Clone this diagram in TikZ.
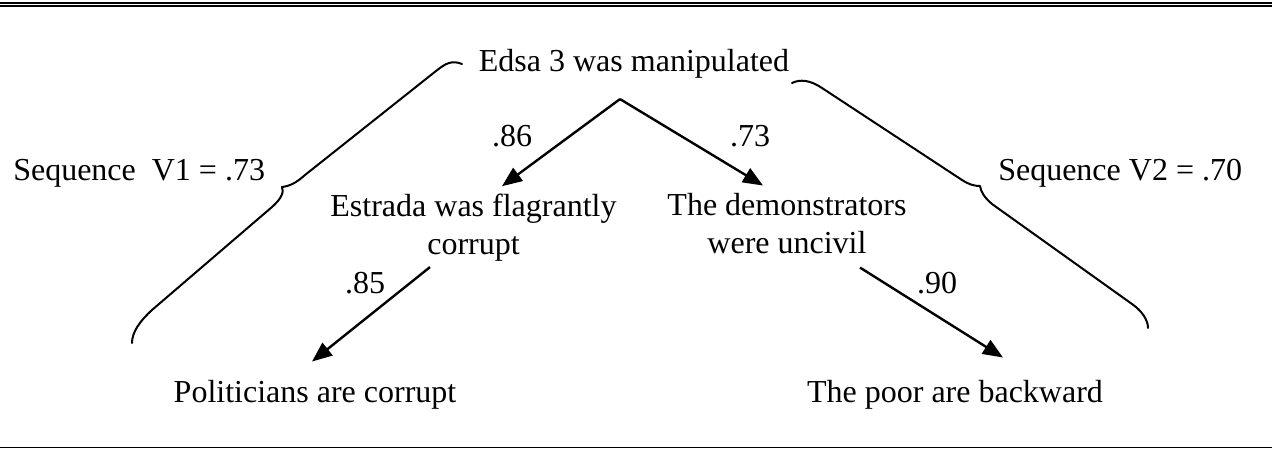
\documentclass[tikz,border=0pt]{standalone}
\usepackage{fontspec}
\setmainfont{Liberation Serif}
\usetikzlibrary{arrows.meta,calc}
\begin{document}
\begin{tikzpicture}[x=0.75pt,y=-0.75pt,
  txt/.style={font=\fontsize{24}{28.5}\selectfont},
  lbl/.style={txt, inner sep=0pt, anchor=base},
  box/.style={txt, align=center, inner sep=6pt, anchor=base},
  arr/.style={line width=1.8pt, -{Triangle[length=15pt,width=12pt]}},
  brace/.style={line width=1.5pt, line cap=round, line join=round},
  rule/.style={line width=1.5pt}]
\useasboundingbox (0,0) rectangle (1272,449);

% frame rules
\draw[rule] (0,2.8) -- (1272,2.8);
\draw[rule] (0,6.2) -- (1272,6.2);
\draw[line width=1pt] (0,447.8) -- (1272,447.8);

% statements (base anchor sits on the last line)
\node[box] (top) at (634,72) {Edsa 3 was manipulated};
\node[box] (estrada) at (473.5,255) {Estrada was flagrantly\\corrupt};
\node[box] (demo) at (787,254) {The demonstrators\\were uncivil};
\node[box] (pol) at (315,402) {Politicians are corrupt};
\node[box] (poor) at (955,402) {The poor are backward};

% branching point under the root statement
\coordinate (split) at ($(top.south)+(-14,12)$);

% paths
\draw[arr] (split) -- ($(estrada.north)+(28.5,0)$);
\draw[arr] (split) -- ($(demo.north)+(-24,0)$);
\draw[arr] ($(estrada.south)+(-43.5,-3)$) -- ($(pol.north)+(-3,-10)$);
\draw[arr] ($(demo.south)+(73,5)$) -- ($(poor.north)+(48,-14)$);

% coefficients
\node[lbl] (c86) at (512,147) {.86};
\node[lbl] (c73) at (750,147) {.73};
\node[lbl] (c85) at (365,293) {.85};
\node[lbl] (c90) at (937,293) {.90};

% sequence labels
\node[lbl, anchor=base west] (seq1) at (13,181) {Sequence\ \ V1 = .73};
\node[lbl, anchor=base west] (seq2) at (998,181) {Sequence V2 = .70};

% left brace
\draw[brace] (462,64) .. controls (452,60) and (446,63) .. (436,71)
  -- (305,175) .. controls (296,183) and (290,186) .. (282,187)
  .. controls (284,192) and (282,198) .. (272,207)
  -- (152,310) .. controls (140,321) and (132,332) .. (132,343);

% right brace
\draw[brace] (792,83) .. controls (800,79) and (810,80) .. (822,88)
  -- (962,180) .. controls (970,185) and (975,186) .. (980,186)
  .. controls (981,192) and (984,197) .. (992,204)
  -- (1132,304) .. controls (1142,311) and (1148,320) .. (1148,328);
\end{tikzpicture}
\end{document}
